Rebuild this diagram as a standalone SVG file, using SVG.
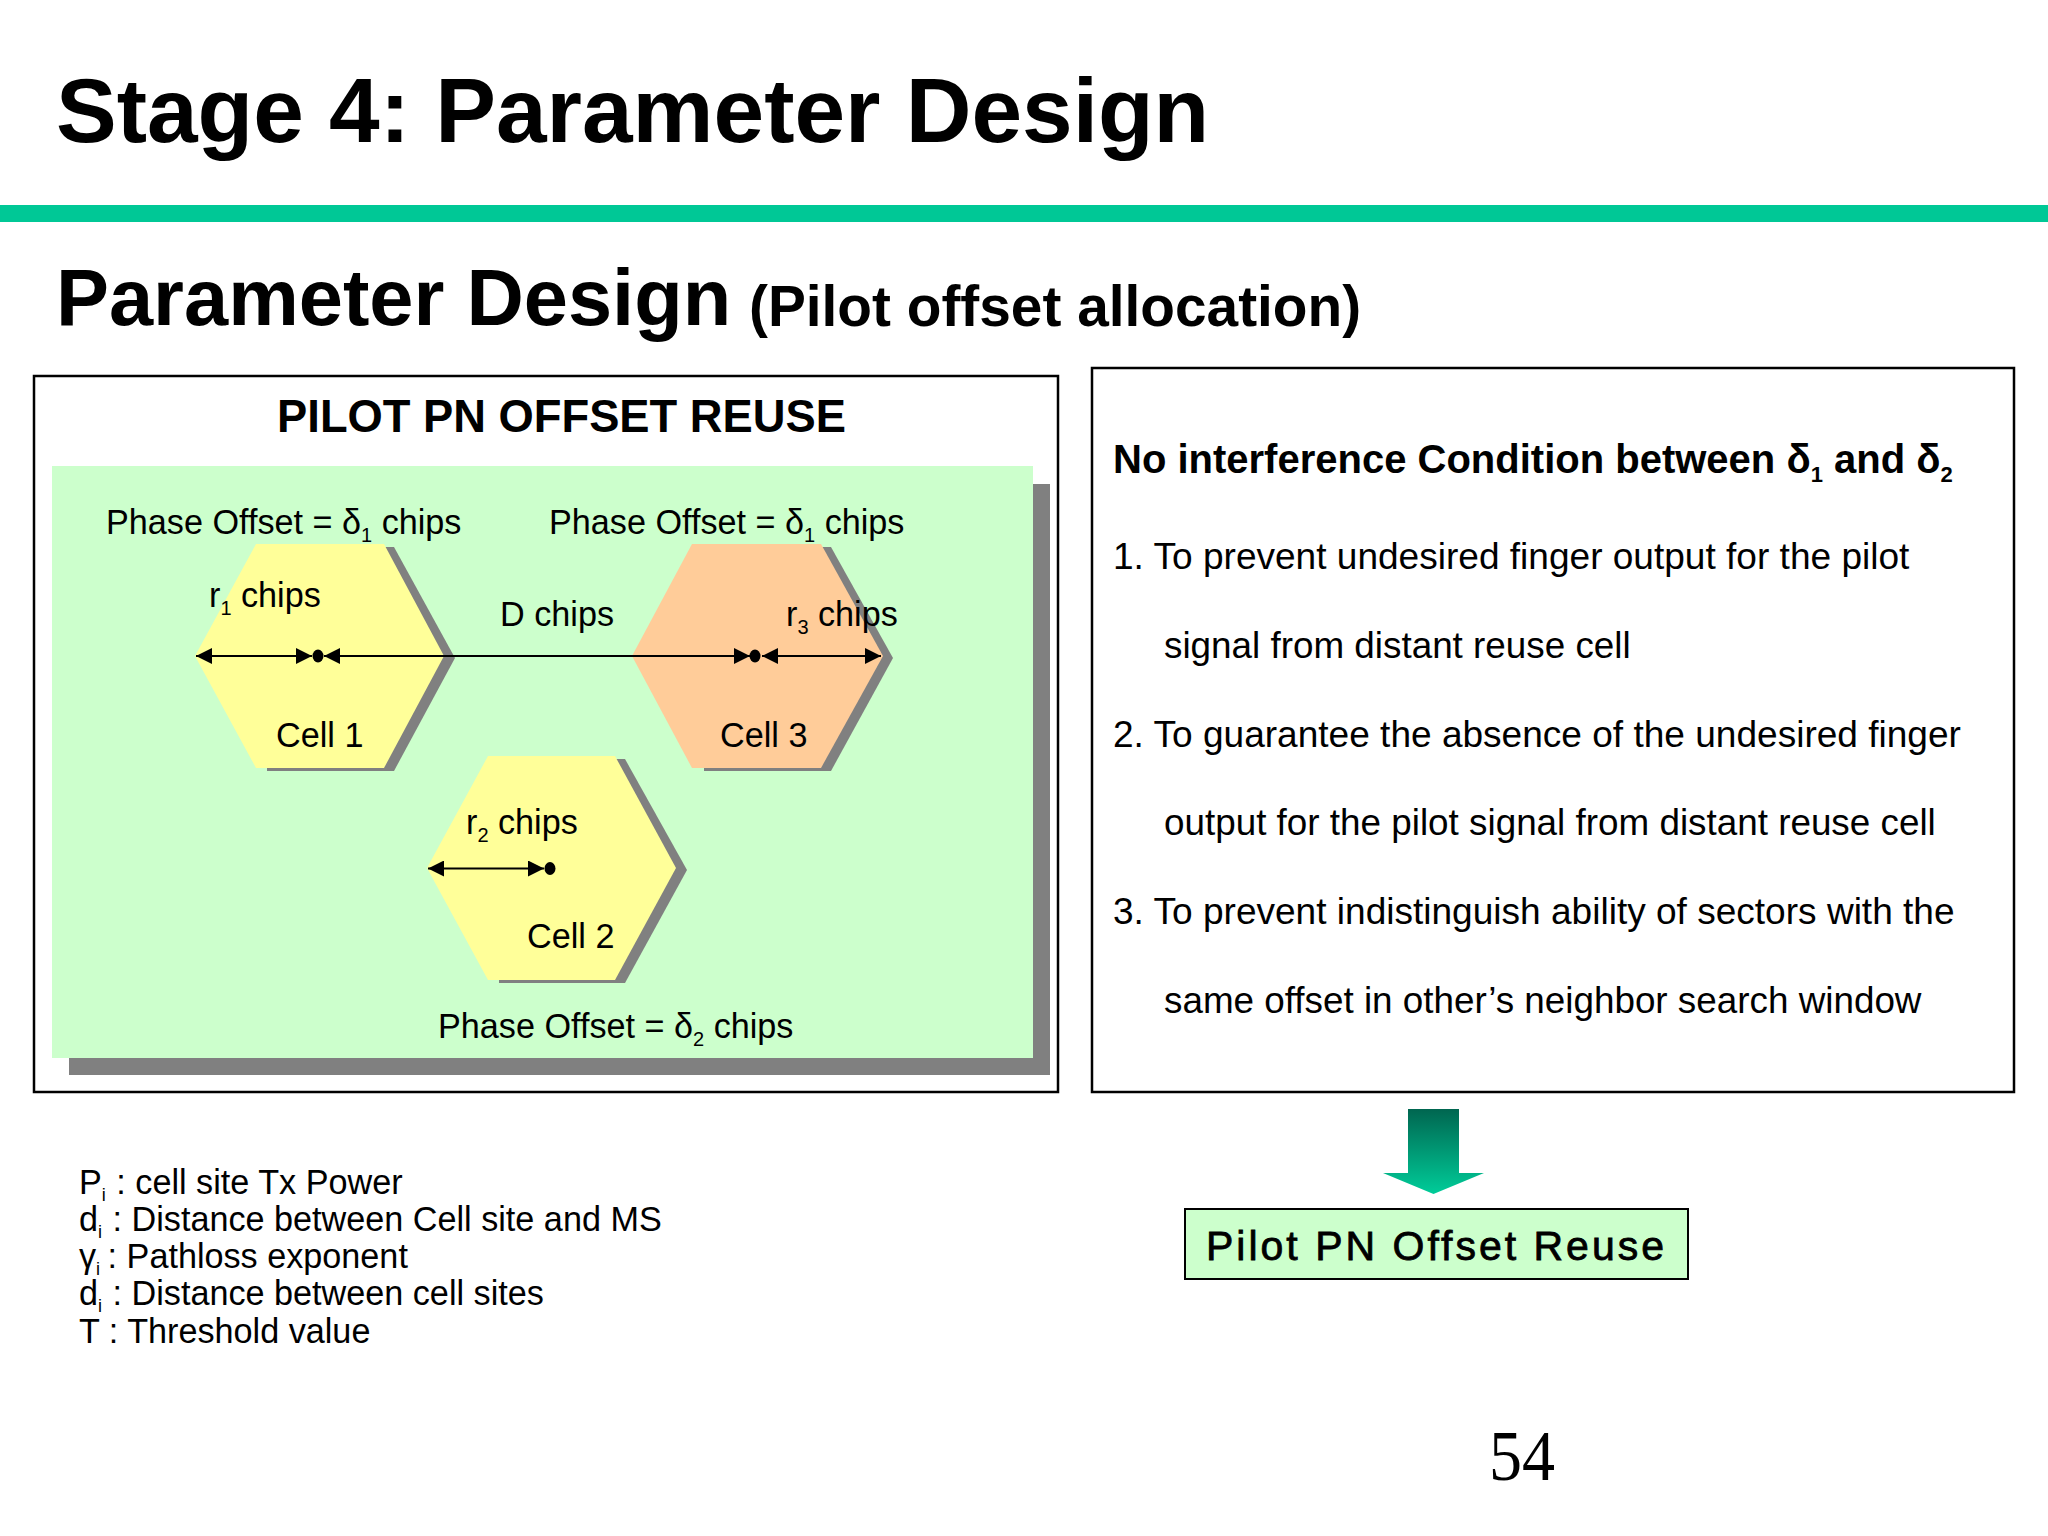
<svg xmlns="http://www.w3.org/2000/svg" width="2048" height="1536" viewBox="0 0 2048 1536">
<style>
text{font-family:"Liberation Sans",Arial,sans-serif;fill:#000}
.b{font-weight:bold}
.l{font-size:34.2px}
.r{font-size:37.05px}
.i{font-size:36.85px}
.h{font-size:40px}
.sh{fill:#808080}
.y{fill:#ffff99}
.box{fill:#fff;stroke:#000;stroke-width:2.5}
.conn{stroke:#000;stroke-width:2;fill:none}
</style>
<defs>
<marker id="a" viewBox="0 0 16 16" refX="16" refY="8" markerWidth="16" markerHeight="16" markerUnits="userSpaceOnUse" orient="auto-start-reverse"><path d="M0 0L16 8L0 16z" fill="#000"/></marker>
<linearGradient id="g" x1="0" y1="0" x2="0" y2="1"><stop offset="0" stop-color="#006650"/><stop offset="1" stop-color="#00cc99"/></linearGradient>
</defs>
<rect width="2048" height="1536" fill="#fff"/>
<g id="header">
<text class="b" x="56" y="142" font-size="91">Stage 4: Parameter Design</text>
<rect x="0" y="205" width="2048" height="17" fill="#00c896"/>
<text class="b" x="56" y="325" font-size="79.400">Parameter Design</text>
<text class="b" x="749" y="325.500" font-size="56.800">(Pilot offset allocation)</text>
</g>
<g id="left-panel">
<rect class="box" x="34" y="376" width="1024" height="716"/>
<text class="b" x="561.500" y="432" font-size="45.300" text-anchor="middle">PILOT PN OFFSET REUSE</text>
<rect x="69" y="484" width="981" height="591" fill="#808080"/>
<rect x="52" y="466" width="981" height="592" fill="#ccffcc"/>
<text class="l" x="106" y="534">Phase Offset = δ<tspan font-size="20" dy="8">1</tspan><tspan dy="-8"> chips</tspan></text>
<text class="l" x="549" y="534">Phase Offset = δ<tspan font-size="20" dy="8">1</tspan><tspan dy="-8"> chips</tspan></text>
<text class="l" x="438" y="1038">Phase Offset = δ<tspan font-size="20" dy="8">2</tspan><tspan dy="-8"> chips</tspan></text>
<text class="l" x="500" y="626">D chips</text>
</g>
<g id="cell-1">
<path class="sh" d="M267 547H394L455 658L394 771H267z"/>
<path class="y" d="M195 656L256 544H384L444 656L384 768H256z"/>
<text class="l" x="209" y="607">r<tspan font-size="20" dy="8">1</tspan><tspan dy="-8"> chips</tspan></text>
<text class="l" x="276" y="747">Cell 1</text>
</g>
<g id="cell-3">
<path class="sh" d="M704 547H831L893 658L831 771H704z"/>
<path fill="#ffcc99" d="M632 656L692 544H821L883 656L821 768H692z"/>
<text class="l" x="786" y="626">r<tspan font-size="20" dy="8">3</tspan><tspan dy="-8"> chips</tspan></text>
<text class="l" x="720" y="747">Cell 3</text>
</g>
<g id="cell-2">
<path class="sh" d="M499 759H625L687 870L625 983H499z"/>
<path class="y" d="M427 868L488 756H615L676 868L615 980H488z"/>
<text class="l" x="466" y="834">r<tspan font-size="20" dy="8">2</tspan><tspan dy="-8"> chips</tspan></text>
<text class="l" x="527" y="948">Cell 2</text>
</g>
<g id="connectors">
<path class="conn" d="M196 656H312" marker-start="url(#a)" marker-end="url(#a)"/>
<path class="conn" d="M324 656H750" marker-start="url(#a)" marker-end="url(#a)"/>
<path class="conn" d="M762 656H881" marker-start="url(#a)" marker-end="url(#a)"/>
<path class="conn" d="M428 868.500H544" marker-start="url(#a)" marker-end="url(#a)"/>
<ellipse cx="318" cy="656" rx="5.500" ry="6.500"/>
<ellipse cx="755" cy="656" rx="5.500" ry="6.500"/>
<ellipse cx="550" cy="868.500" rx="5.500" ry="6.500"/>
</g>
<g id="right-panel">
<rect class="box" x="1092" y="368" width="922" height="724"/>
<text class="b h" x="1113" y="473">No interference Condition between δ<tspan font-size="22" dy="9">1</tspan><tspan dy="-9"> and δ</tspan><tspan font-size="22" dy="9">2</tspan></text>
<text class="r" x="1113" y="569">1. To prevent undesired finger output for the pilot</text>
<text class="i" x="1164" y="658">signal from distant reuse cell</text>
<text class="r" x="1113" y="747">2. To guarantee the absence of the undesired finger</text>
<text class="i" x="1164" y="835">output for the pilot signal from distant reuse cell</text>
<text class="r" x="1113" y="924">3. To prevent indistinguish ability of sectors with the</text>
<text class="i" x="1164" y="1013">same offset in other’s neighbor search window</text>
</g>
<g id="legend">
<text class="l" x="79" y="1194">P<tspan font-size="18" dy="7">i</tspan><tspan dy="-7" dx="1"> : cell site Tx Power</tspan></text>
<text class="l" x="79" y="1231">d<tspan font-size="18" dy="7">i</tspan><tspan dy="-7" dx="1"> : Distance between Cell site and MS</tspan></text>
<text class="l" x="79" y="1268">γ<tspan font-size="18" dy="7">i</tspan><tspan dy="-7" dx="-2"> : Pathloss exponent</tspan></text>
<text class="l" x="79" y="1305">d<tspan font-size="18" dy="7">i</tspan><tspan dy="-7" dx="1"> : Distance between cell sites</tspan></text>
<text class="l" x="79" y="1343">T : Threshold value</text>
</g>
<g id="result-arrow">
<path fill="url(#g)" d="M1408 1109H1459V1173H1484L1433.500 1194L1383 1173H1408z"/>
</g>
<g id="result">
<rect x="1185" y="1209" width="503" height="70" fill="#ccffcc" stroke="#000" stroke-width="2"/>
<text x="1206" y="1260" font-size="41" letter-spacing="3" stroke="#000" stroke-width="0.8">Pilot PN Offset Reuse</text>
</g>
<text id="page-number" transform="translate(1489 1480) scale(.917 1)" font-size="72" style="font-family:'Liberation Serif',serif">54</text>
</svg>
